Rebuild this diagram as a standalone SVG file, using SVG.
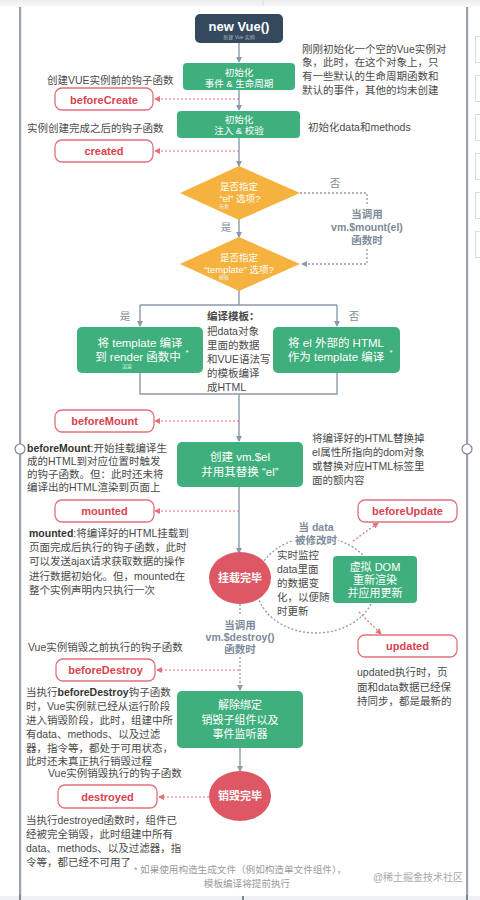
<svg xmlns="http://www.w3.org/2000/svg" width="480" height="900" viewBox="0 0 480 900">
<defs>
<style>
text{font-family:"Liberation Sans","Noto Sans CJK SC",sans-serif;dominant-baseline:central}
.ann{font-size:10.5px;fill:#4a4a4a}
.gl{font-size:10.5px;fill:#7d8b99;font-weight:bold;text-anchor:middle}
.wt{fill:#fff;text-anchor:middle}
.hook rect{fill:#fff;stroke:#e3707a;stroke-width:1.3}
.hook text{font-size:11px;font-weight:bold;fill:#d9434f;text-anchor:middle}
.green{fill:#3fb07d}
.tiny{font-size:5px;fill:#e8f4ee;text-anchor:middle}
.ln{fill:none;stroke:#8a9aaa;stroke-width:1.4}
.dot{fill:none;stroke:#8a9aaa;stroke-width:1.3;stroke-dasharray:2 2}
.rd{fill:none;stroke:#e3707a;stroke-width:1.2;stroke-dasharray:2 2}
.halo{stroke:#fff;stroke-width:4;paint-order:stroke}
</style>
<marker id="ag" viewBox="0 0 6 6" refX="5" refY="3" markerWidth="6" markerHeight="6" orient="auto" markerUnits="userSpaceOnUse"><path d="M0,0 L6,3 L0,6 Z" fill="#8a9aaa"/></marker>
<marker id="ar" viewBox="0 0 6 6" refX="5" refY="3" markerWidth="6" markerHeight="6" orient="auto" markerUnits="userSpaceOnUse"><path d="M0,0 L6,3 L0,6 Z" fill="#e3707a"/></marker>
<linearGradient id="topg" x1="0" y1="0" x2="0" y2="1"><stop offset="0" stop-color="#ededed"/><stop offset="1" stop-color="#fafafa"/></linearGradient>
</defs>
<rect width="480" height="900" fill="#fff"/>
<g id="frame">
<rect x="0" y="0" width="480" height="7" fill="url(#topg)"/>
<line x1="263" y1="0" x2="263" y2="6" stroke="#ddd"/>
<rect x="19" y="7" width="2.2" height="890" fill="#9aa1ad"/>
<rect x="466" y="7" width="2.2" height="890" fill="#9aa1ad"/>
<rect x="0" y="896" width="480" height="4" fill="#eef0f3"/>
<line x1="20" y1="895" x2="20" y2="900" stroke="#7b8594" stroke-width="2"/>
<line x1="243" y1="896" x2="243" y2="900" stroke="#7b8594" stroke-width="2"/>
<line x1="467" y1="895" x2="467" y2="900" stroke="#7b8594" stroke-width="2"/>
<circle cx="20" cy="449" r="5" fill="#fff" stroke="#7b8594" stroke-width="1.2"/>
<circle cx="467" cy="449" r="5" fill="#fff" stroke="#7b8594" stroke-width="1.2"/>
<g fill="#fff" stroke="#dcdcdc">
<rect x="475.5" y="36.5" width="10" height="26"/>
<rect x="475.5" y="75.5" width="10" height="26"/>
<rect x="475.5" y="114.5" width="10" height="26"/>
<rect x="475.5" y="153.5" width="10" height="26"/>
<rect x="475.5" y="192.5" width="10" height="26"/>
<rect x="475.5" y="231.5" width="10" height="26"/>
</g>
</g>

<g id="connectors">
<path class="ln" d="M239,43 V62" marker-end="url(#ag)"/>
<path class="ln" d="M239,90 V110" marker-end="url(#ag)"/>
<path class="ln" d="M239,138 V166" marker-end="url(#ag)"/>
<path class="ln" d="M239,219 V237" marker-end="url(#ag)"/>
<path class="dot" d="M300,193 H367 V205"/>
<path class="dot" d="M367,249 V264 H302" marker-end="url(#ag)"/>
<path class="ln" d="M239,290 V305 M140,305 H337"/>
<path class="ln" d="M140,305 V326" marker-end="url(#ag)"/>
<path class="ln" d="M337,305 V326" marker-end="url(#ag)"/>
<path class="ln" d="M140,373 V394 H337 V373"/>
<path class="ln" d="M239,394 V441" marker-end="url(#ag)"/>
<path class="ln" d="M239,487 V553" marker-end="url(#ag)"/>
<path class="dot" d="M240,604 V616"/>
<path class="dot" d="M240,657 V690" marker-end="url(#ag)"/>
<path class="ln" d="M240,748 V771" marker-end="url(#ag)"/>
<path class="rd" d="M239,99 H155" marker-end="url(#ar)"/>
<path class="rd" d="M239,151 H155" marker-end="url(#ar)"/>
<path class="rd" d="M239,421 H155" marker-end="url(#ar)"/>
<path class="rd" d="M239,511 H155" marker-end="url(#ar)"/>
<path class="rd" d="M239,670 H157" marker-end="url(#ar)"/>
<path class="rd" d="M209,797 H159" marker-end="url(#ar)"/>
<path class="rd" d="M353,541 L378,523" marker-end="url(#ar)"/>
<path class="rd" d="M359,612 L381,634" marker-end="url(#ar)"/>
<ellipse class="dot" cx="316" cy="585" rx="60" ry="48" stroke="#9aa5b0"/>
</g>

<g id="newVue">
<rect x="195" y="14" width="88" height="29" rx="5" fill="#34495e"/>
<text class="wt" x="239" y="26" font-size="13" font-weight="bold">new Vue()</text>
<text x="239" y="36.5" font-size="5" fill="#a9b4c0" text-anchor="middle">新建 Vue 实例</text>
</g>

<g id="initEvents">
<rect class="green" x="183" y="63" width="112" height="27" rx="4"/>
<text class="wt" x="239" y="72" font-size="9.5">初始化</text>
<text class="wt" x="239" y="83" font-size="9.5">事件 &amp; 生命周期</text>
</g>
<g id="noteInit">
<text class="ann" x="302" y="49">刚刚初始化一个空的Vue实例对</text>
<text class="ann" x="302" y="62">象，此时，在这个对象上，只</text>
<text class="ann" x="302" y="76">有一些默认的生命周期函数和</text>
<text class="ann" x="302" y="90">默认的事件，其他的均未创建</text>
</g>

<g id="beforeCreate" class="hook">
<text class="ann" x="47" y="80" style="font-weight:normal;fill:#4a4a4a;text-anchor:start;font-size:10.5px">创建VUE实例前的钩子函数</text>
<rect x="55" y="88" width="98" height="22" rx="7"/>
<text x="104" y="99.5">beforeCreate</text>
</g>

<g id="initInject">
<rect class="green" x="177" y="111" width="123" height="27" rx="4"/>
<text class="wt" x="239" y="119.5" font-size="9.5">初始化</text>
<text class="wt" x="239" y="130.5" font-size="9.5">注入 &amp; 校验</text>
<text class="ann" x="308" y="127">初始化data和methods</text>
</g>

<g id="created" class="hook">
<text class="ann" x="27" y="128" style="font-weight:normal;fill:#4a4a4a;text-anchor:start;font-size:10.5px">实例创建完成之后的钩子函数</text>
<rect x="55" y="140" width="98" height="22" rx="7"/>
<text x="104" y="151">created</text>
</g>

<g id="hasEl">
<polygon points="239,166 300,193 239,220 180,193" fill="#f6b23e"/>
<text class="wt" x="239" y="186" font-size="9.5">是否指定</text>
<text class="wt" x="240" y="198" font-size="9.5">“el” 选项?</text>
<text class="tiny" x="224" y="206">元素</text>
<text x="335" y="183" font-size="10.5" fill="#7d8b99" text-anchor="middle">否</text>
<text x="226" y="227" font-size="10.5" fill="#7d8b99" text-anchor="middle">是</text>
<text class="gl" x="367" y="214">当调用</text>
<text class="gl" x="367" y="227">vm.$mount(el)</text>
<text class="gl" x="367" y="240">函数时</text>
</g>

<g id="hasTemplate">
<polygon points="239,237 300,264 239,291 180,264" fill="#f6b23e"/>
<text class="wt" x="239" y="257" font-size="9.5">是否指定</text>
<text class="wt" x="239" y="269" font-size="9.5">“template” 选项?</text>
<text class="tiny" x="224" y="277">模板</text>
<text x="125" y="316" font-size="10.5" fill="#7d8b99" text-anchor="middle">是</text>
<text x="354" y="316" font-size="10.5" fill="#7d8b99" text-anchor="middle">否</text>
</g>

<g id="compileRender">
<rect class="green" x="77" y="327" width="126" height="46" rx="5"/>
<text class="wt" x="140" y="343" font-size="11.5">将 template 编译</text>
<text class="wt" x="138" y="357" font-size="11.5">到 render 函数中</text>
<text class="wt" x="187" y="352" font-size="8">*</text>
<text class="tiny" x="127" y="366">渲染</text>
</g>

<g id="compileEl">
<rect class="green" x="273" y="327" width="127" height="46" rx="5"/>
<text class="wt" x="336" y="343" font-size="11.5">将 el 外部的 HTML</text>
<text class="wt" x="336" y="357" font-size="11.5">作为 template 编译</text>
<text class="wt" x="391" y="352" font-size="8">*</text>
</g>

<g id="noteCompile">
<text class="ann" x="207" y="316" font-weight="bold" fill="#333">编译模板：</text>
<text class="ann" x="207" y="331">把data对象</text>
<text class="ann" x="207" y="345">里面的数据</text>
<text class="ann" x="207" y="359">和VUE语法写</text>
<text class="ann" x="207" y="373">的模板编译</text>
<text class="ann" x="207" y="387">成HTML</text>
</g>

<g id="beforeMount" class="hook">
<rect x="55" y="410" width="99" height="22" rx="7"/>
<text x="104.5" y="421">beforeMount</text>
</g>
<g id="noteBeforeMount">
<text class="ann" x="27" y="448"><tspan font-weight="bold" fill="#333">beforeMount</tspan>:开始挂载编译生</text>
<text class="ann" x="27" y="461">成的HTML到对应位置时触发</text>
<text class="ann" x="27" y="474">的钩子函数。但：此时还未将</text>
<text class="ann" x="27" y="487">编译出的HTML渲染到页面上</text>
</g>

<g id="createEl">
<rect class="green" x="177" y="442" width="126" height="45" rx="5"/>
<text class="wt" x="240" y="457" font-size="11.5">创建  vm.$el</text>
<text class="wt" x="240" y="472" font-size="11.5">并用其替换 “el”</text>
</g>
<g id="noteCreateEl">
<text class="ann" x="312" y="438">将编译好的HTML替换掉</text>
<text class="ann" x="312" y="452">el属性所指向的dom对象</text>
<text class="ann" x="312" y="466">或替换对应HTML标签里</text>
<text class="ann" x="312" y="480">面的额内容</text>
</g>

<g id="mounted" class="hook">
<rect x="55" y="500" width="99" height="22" rx="7"/>
<text x="104.5" y="511">mounted</text>
</g>
<g id="noteMounted">
<text class="ann" x="29" y="533"><tspan font-weight="bold" fill="#333">mounted</tspan>:将编译好的HTML挂载到</text>
<text class="ann" x="29" y="547">页面完成后执行的钩子函数，此时</text>
<text class="ann" x="29" y="561">可以发送ajax请求获取数据的操作</text>
<text class="ann" x="29" y="576">进行数据初始化。但，mounted在</text>
<text class="ann" x="29" y="590">整个实例声明内只执行一次</text>
</g>

<g id="updateLoop">
<text class="gl halo" x="316" y="527">当 data</text>
<text class="gl halo" x="316" y="540">被修改时</text>
<text class="ann" x="277" y="555">实时监控</text>
<text class="ann" x="277" y="569">data里面</text>
<text class="ann" x="277" y="583">的数据变</text>
<text class="ann" x="277" y="597">化，以便随</text>
<text class="ann" x="277" y="611">时更新</text>
</g>

<g id="mountedDone">
<ellipse cx="240" cy="578" rx="31" ry="26" fill="#dd5864"/>
<text class="wt" x="240" y="578" font-size="11" font-weight="bold">挂载完毕</text>
</g>

<g id="virtualDom">
<rect class="green" x="333" y="556" width="84" height="47" rx="4"/>
<text class="wt" x="375" y="567" font-size="11">虚拟 DOM</text>
<text class="wt" x="375" y="580" font-size="11">重新渲染</text>
<text class="wt" x="375" y="593" font-size="11">并应用更新</text>
</g>

<g id="beforeUpdate" class="hook">
<rect x="358" y="500" width="99" height="22" rx="7"/>
<text x="407.5" y="511">beforeUpdate</text>
</g>

<g id="updated" class="hook">
<rect x="358" y="635" width="99" height="22" rx="7"/>
<text x="407.5" y="646">updated</text>
</g>
<g id="noteUpdated">
<text class="ann" x="357" y="672">updated执行时，页</text>
<text class="ann" x="357" y="687">面和data数据已经保</text>
<text class="ann" x="357" y="701">持同步，都是最新的</text>
</g>

<g id="destroyCall">
<text class="gl" x="240" y="625">当调用</text>
<text class="gl" x="240" y="637">vm.$destroy()</text>
<text class="gl" x="240" y="649">函数时</text>
</g>

<g id="beforeDestroy" class="hook">
<text class="ann" x="28" y="647" style="font-weight:normal;fill:#4a4a4a;text-anchor:start;font-size:10.5px">Vue实例销毁之前执行的钩子函数</text>
<rect x="56" y="659" width="99" height="22" rx="7"/>
<text x="105.5" y="670">beforeDestroy</text>
</g>
<g id="noteBeforeDestroy">
<text class="ann" x="26" y="692">当执行<tspan font-weight="bold" fill="#333">beforeDestroy</tspan>钩子函数</text>
<text class="ann" x="26" y="706">时，Vue实例就已经从运行阶段</text>
<text class="ann" x="26" y="720">进入销毁阶段，此时，组建中所</text>
<text class="ann" x="26" y="734">有data、methods、以及过滤</text>
<text class="ann" x="26" y="748">器，指令等，都处于可用状态，</text>
<text class="ann" x="26" y="761">此时还未真正执行销毁过程</text>
</g>

<g id="teardown">
<rect class="green" x="177" y="691" width="126" height="57" rx="5"/>
<text class="wt" x="240" y="705" font-size="11">解除绑定</text>
<text class="wt" x="240" y="720" font-size="11">销毁子组件以及</text>
<text class="wt" x="240" y="734" font-size="11">事件监听器</text>
</g>

<g id="destroyed" class="hook">
<text class="ann" x="48" y="773" style="font-weight:normal;fill:#4a4a4a;text-anchor:start;font-size:10.5px">Vue实例销毁执行的钩子函数</text>
<rect x="58" y="785" width="99" height="23" rx="7"/>
<text x="107.5" y="796.5">destroyed</text>
</g>
<g id="destroyDone">
<ellipse cx="240" cy="796" rx="31" ry="25" fill="#dd5864"/>
<text class="wt" x="240" y="796" font-size="11" font-weight="bold">销毁完毕</text>
</g>
<g id="noteDestroyed">
<text class="ann" x="26" y="820">当执行destroyed函数时，组件已</text>
<text class="ann" x="26" y="834">经被完全销毁，此时组建中所有</text>
<text class="ann" x="26" y="848">data、methods、以及过滤器，指</text>
<text class="ann" x="26" y="862">令等，都已经不可用了</text>
</g>

<g id="footnote">
<text x="240" y="869" font-size="9.6" fill="#9a9a9a" text-anchor="middle">* 如果使用构造生成文件（例如构造单文件组件），</text>
<text x="247" y="883" font-size="9.6" fill="#9a9a9a" text-anchor="middle">模板编译将提前执行</text>
<text x="418" y="877" font-size="10" fill="#aaaaaa" text-anchor="middle">@稀土掘金技术社区</text>
</g>
</svg>
